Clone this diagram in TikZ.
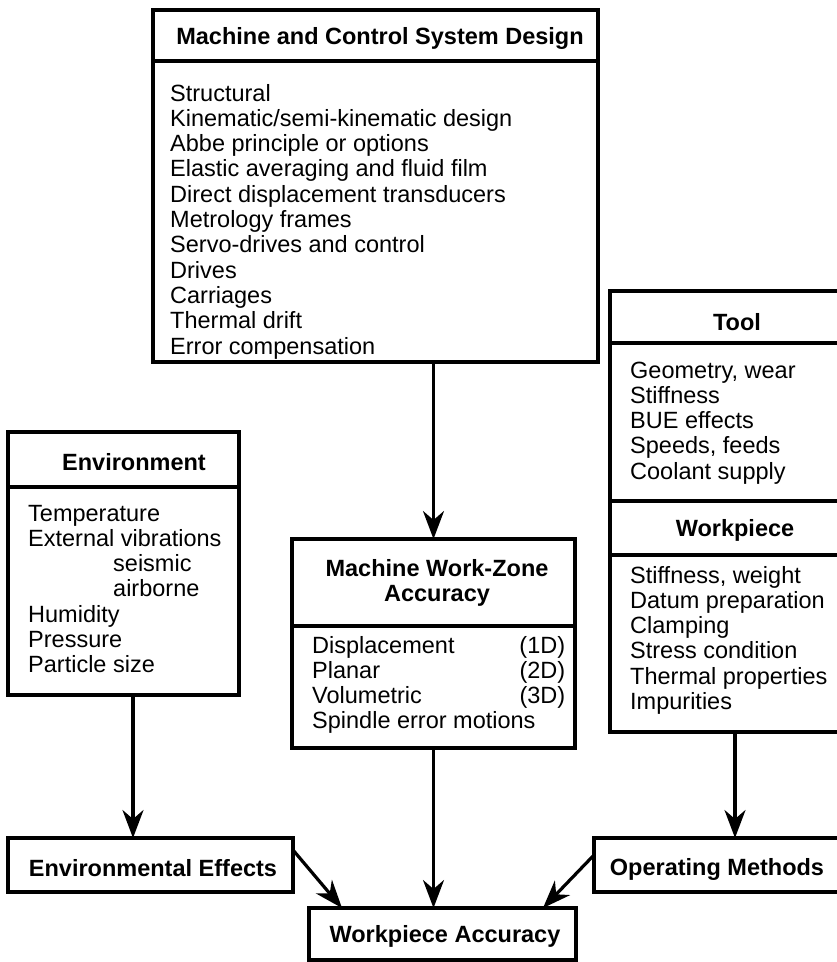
\documentclass[tikz,border=0pt]{standalone}
\usepackage{fontspec}
\setmainfont{Liberation Sans}
\usetikzlibrary{arrows.meta}
\newcommand{\fsz}{\fontsize{23.5pt}{25.3pt}\selectfont}
\begin{document}
\begin{tikzpicture}[x=1pt,y=-1pt,
  frame/.style={draw, line width=4pt, inner sep=0pt, outer sep=0pt, anchor=north west},
  sepline/.style={line width=4pt},
  head/.style={font=\fsz\bfseries, inner sep=0pt, anchor=base},
  body/.style={font=\fsz, inner sep=0pt, anchor=base west},
  arr/.style={line width=3.2pt, -{Stealth[length=28pt,width=21pt,inset=9pt]}}]
\useasboundingbox (0,0) rectangle (837,962);
\clip (0,0) rectangle (837,962);

% Boxes
\node[frame, minimum width=445pt, minimum height=352pt] (mcsd) at (153,10) {};
\node[frame, minimum width=231pt, minimum height=263pt] (env) at (8,432) {};
\node[frame, minimum width=283pt, minimum height=209pt] (mwza) at (292,539) {};
\node[frame, minimum width=250pt, minimum height=441pt] (tool) at (610,291) {};
\node[frame, minimum width=285pt, minimum height=54pt] (envfx) at (8,838) {};
\node[frame, minimum width=250pt, minimum height=54pt] (opm) at (594,838) {};
\node[frame, minimum width=267pt, minimum height=52pt] (wa) at (309,908) {};

% Separators
\draw[sepline] (mcsd.west |- 0,61) -- (mcsd.east |- 0,61);
\draw[sepline] (env.west |- 0,487) -- (env.east |- 0,487);
\draw[sepline] (mwza.west |- 0,626) -- (mwza.east |- 0,626);
\draw[sepline] (tool.west |- 0,343) -- (tool.east |- 0,343);
\draw[sepline] (tool.west |- 0,501) -- (tool.east |- 0,501);
\draw[sepline] (tool.west |- 0,555) -- (tool.east |- 0,555);

% Headers
\node[head] (mcsdh) at (380,44) {Machine and Control System Design};
\node[head] (envh) at (134,470) {Environment};
\node[head] (toolh) at (737,330) {Tool};
\node[head] (wph) at (735,536) {Workpiece};
\node[head] (mwzah) at (437,576) {\begin{tabular}[t]{@{}c@{}}Machine Work-Zone\\ Accuracy\end{tabular}};
\node[head] (envfxt) at (153,876) {Environmental Effects};
\node[head] (opmt) at (717,875) {Operating Methods};
\node[head] (wat) at (445,942) {Workpiece Accuracy};

% Bodies
\node[body] (mcsdb) at (170,101) {\begin{tabular}[t]{@{}l@{}}
Structural\\
Kinematic/semi-kinematic design\\
Abbe principle or options\\
Elastic averaging and fluid film\\
Direct displacement transducers\\
Metrology frames\\
Servo-drives and control\\
Drives\\
Carriages\\
Thermal drift\\
Error compensation
\end{tabular}};
\node[body] (envb) at (28,521) {\begin{tabular}[t]{@{}l@{}}
Temperature\\
External vibrations\\
\hspace*{85pt}seismic\\
\hspace*{85pt}airborne\\
Humidity\\
Pressure\\
Particle size
\end{tabular}};
\node[body] (toolb) at (630,378) {\begin{tabular}[t]{@{}l@{}}
Geometry, wear\\
Stiffness\\
BUE effects\\
Speeds, feeds\\
Coolant supply
\end{tabular}};
\node[body] (wpb) at (630,583) {\begin{tabular}[t]{@{}l@{}}
Stiffness, weight\\
Datum preparation\\
Clamping\\
Stress condition\\
Thermal properties\\
Impurities
\end{tabular}};
\node[body] (mwzab) at (312,653) {\begin{tabular*}{253pt}[t]{@{}l@{\extracolsep{\fill}}r@{}}
Displacement & (1D)\\
Planar & (2D)\\
Volumetric & (3D)\\
\multicolumn{2}{@{}l@{}}{Spindle error motions}
\end{tabular*}};

% Connectors
\draw[arr] (mwza.north |- mcsd.south) -- (mwza.north);
\draw[arr] ([xshift=9.5pt]env.south) -- ([xshift=9.5pt]env.south |- envfx.north);
\draw[arr] (tool.south) -- (tool.south |- opm.north);
\draw[arr] (mwza.south) -- (mwza.south |- wa.north);
\draw[arr] ([yshift=-12pt]envfx.north east) -- ([xshift=33pt]wa.north west);
\draw[arr] ([yshift=-17pt]opm.north west) -- ([xshift=-33pt]wa.north east);
\end{tikzpicture}
\end{document}
